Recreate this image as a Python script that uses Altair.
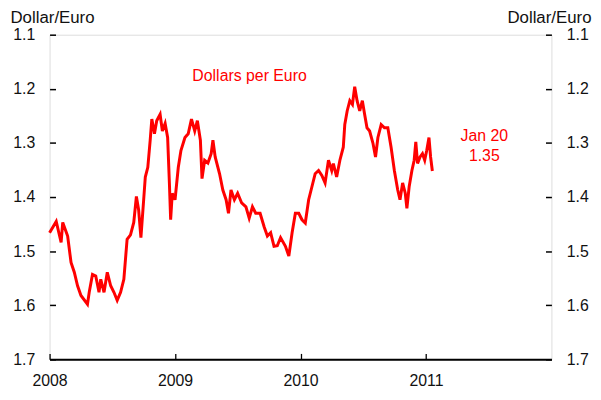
import altair as alt
import pandas as pd

# Daily dollars-per-euro rate (decimal year, rate)
years = [
    2008.000, 2008.053, 2008.092, 2008.105, 2008.144, 2008.171, 2008.197, 2008.223,
    2008.250, 2008.302, 2008.316, 2008.342, 2008.368, 2008.394, 2008.408, 2008.434,
    2008.460, 2008.487, 2008.513, 2008.539, 2008.566, 2008.592, 2008.618, 2008.645,
    2008.671, 2008.692, 2008.710, 2008.728, 2008.750, 2008.763, 2008.783, 2008.802,
    2008.815, 2008.836, 2008.854, 2008.881, 2008.899, 2008.921, 2008.941, 2008.955,
    2008.965, 2008.978, 2009.000, 2009.026, 2009.047, 2009.079, 2009.105, 2009.131,
    2009.157, 2009.178, 2009.202, 2009.215, 2009.236, 2009.262, 2009.288, 2009.302,
    2009.320, 2009.355, 2009.381, 2009.407, 2009.426, 2009.446, 2009.473, 2009.499,
    2009.531, 2009.565, 2009.591, 2009.617, 2009.643, 2009.678, 2009.710, 2009.736,
    2009.762, 2009.789, 2009.815, 2009.841, 2009.880, 2009.907, 2009.933, 2009.959,
    2009.986, 2010.012, 2010.038, 2010.065, 2010.091, 2010.117, 2010.144, 2010.170,
    2010.196, 2010.223, 2010.249, 2010.262, 2010.288, 2010.314, 2010.341, 2010.353,
    2010.372, 2010.393, 2010.414, 2010.432, 2010.451, 2010.472, 2010.493, 2010.511,
    2010.530, 2010.551, 2010.578, 2010.598, 2010.617, 2010.643, 2010.669, 2010.696,
    2010.722, 2010.748, 2010.775, 2010.793, 2010.814, 2010.835, 2010.848, 2010.866,
    2010.888, 2010.906, 2010.919, 2010.933, 2010.953, 2010.972, 2010.990, 2011.006,
    2011.024, 2011.037, 2011.051,
]
rates = [
    1.466, 1.445, 1.484, 1.447, 1.472, 1.521, 1.539, 1.564,
    1.582, 1.598, 1.576, 1.543, 1.546, 1.576, 1.552, 1.576,
    1.539, 1.564, 1.576, 1.591, 1.576, 1.552, 1.478, 1.470,
    1.447, 1.399, 1.424, 1.475, 1.405, 1.363, 1.345, 1.295,
    1.256, 1.283, 1.259, 1.247, 1.278, 1.264, 1.290, 1.374,
    1.442, 1.393, 1.405, 1.345, 1.314, 1.290, 1.283, 1.256,
    1.278, 1.259, 1.295, 1.366, 1.332, 1.337, 1.320, 1.295,
    1.326, 1.357, 1.387, 1.405, 1.430, 1.387, 1.405, 1.393,
    1.411, 1.418, 1.439, 1.418, 1.430, 1.430, 1.455, 1.472,
    1.466, 1.491, 1.490, 1.475, 1.491, 1.509, 1.466, 1.430,
    1.430, 1.442, 1.448, 1.405, 1.381, 1.357, 1.351, 1.360,
    1.374, 1.332, 1.351, 1.338, 1.363, 1.332, 1.308, 1.266,
    1.241, 1.222, 1.229, 1.196, 1.222, 1.241, 1.222, 1.247,
    1.272, 1.278, 1.301, 1.326, 1.290, 1.266, 1.272, 1.272,
    1.308, 1.351, 1.387, 1.405, 1.374, 1.393, 1.421, 1.381,
    1.351, 1.332, 1.298, 1.338, 1.326, 1.320, 1.332, 1.314,
    1.290, 1.326, 1.352,
]

# Annotations
note_text = ["Dollars per Euro", "Jan 20", "1.35"]
note_x = [2009.594, 2011.465, 2011.465]
note_y = [1.176, 1.2875, 1.324]

year_ticks = [2008, 2009, 2010, 2011]
rate_ticks = [1.1, 1.2, 1.3, 1.4, 1.5, 1.6, 1.7]

df = pd.DataFrame({"year": years, "rate": rates})
notes = pd.DataFrame({"year": note_x, "rate": note_y, "text": note_text})

FONT = "Liberation Sans"
INK = "#111111"
RED = "#ff0000"

x_enc = alt.X(
    "year:Q",
    scale=alt.Scale(domain=[2008, 2012], nice=False, zero=False),
    axis=alt.Axis(
        orient="bottom", values=year_ticks, format="d", title=None,
        labelFontSize=16, labelFont=FONT, labelColor=INK, labelPadding=13,
        ticks=False, domain=True, domainColor="#000", domainWidth=2,
        grid=True, gridColor="#000", gridWidth=1.3, gridDash=[6, 2000],
        labelFlush=False,
    ),
)


def y_enc(orient, tx, align):
    return alt.Y(
        "rate:Q",
        scale=alt.Scale(domain=[1.1, 1.7], reverse=True, nice=False, zero=False),
        axis=alt.Axis(
            orient=orient, values=rate_ticks, format=".1f",
            title="Dollar/Euro", titleAngle=0, titleX=tx, titleY=-12,
            titleAlign=align, titleBaseline="alphabetic", titleFont=FONT,
            titleFontSize=17, titleFontWeight="normal", titleColor=INK,
            labelFontSize=16, labelFont=FONT, labelColor=INK, labelPadding=15,
            labelFlush=False, ticks=False, domain=False,
            grid=True, gridColor="#000", gridWidth=1.5, gridDash=[6, 2000],
        ),
    )


line = alt.Chart(df).mark_line(color=RED, strokeWidth=3).encode(
    x=x_enc, y=y_enc("left", -40, "left")
)

text = alt.Chart(notes).mark_text(
    color=RED, font=FONT, fontSize=16, align="center", baseline="middle"
).encode(
    x=alt.X("year:Q"), y=y_enc("right", 40, "right"), text="text:N"
)

chart = (
    alt.layer(line, text)
    .resolve_scale(y="independent")
    .properties(
        width=507, height=328,
        autosize=alt.AutoSizeParams(type="none"),
        padding={"left": 42, "top": 25, "right": 42, "bottom": 31},
    )
    .configure_view(stroke="#000", strokeWidth=2)
    .configure(background="white")
)

chart.save("out.html", embed_options={"renderer": "svg", "actions": False})
